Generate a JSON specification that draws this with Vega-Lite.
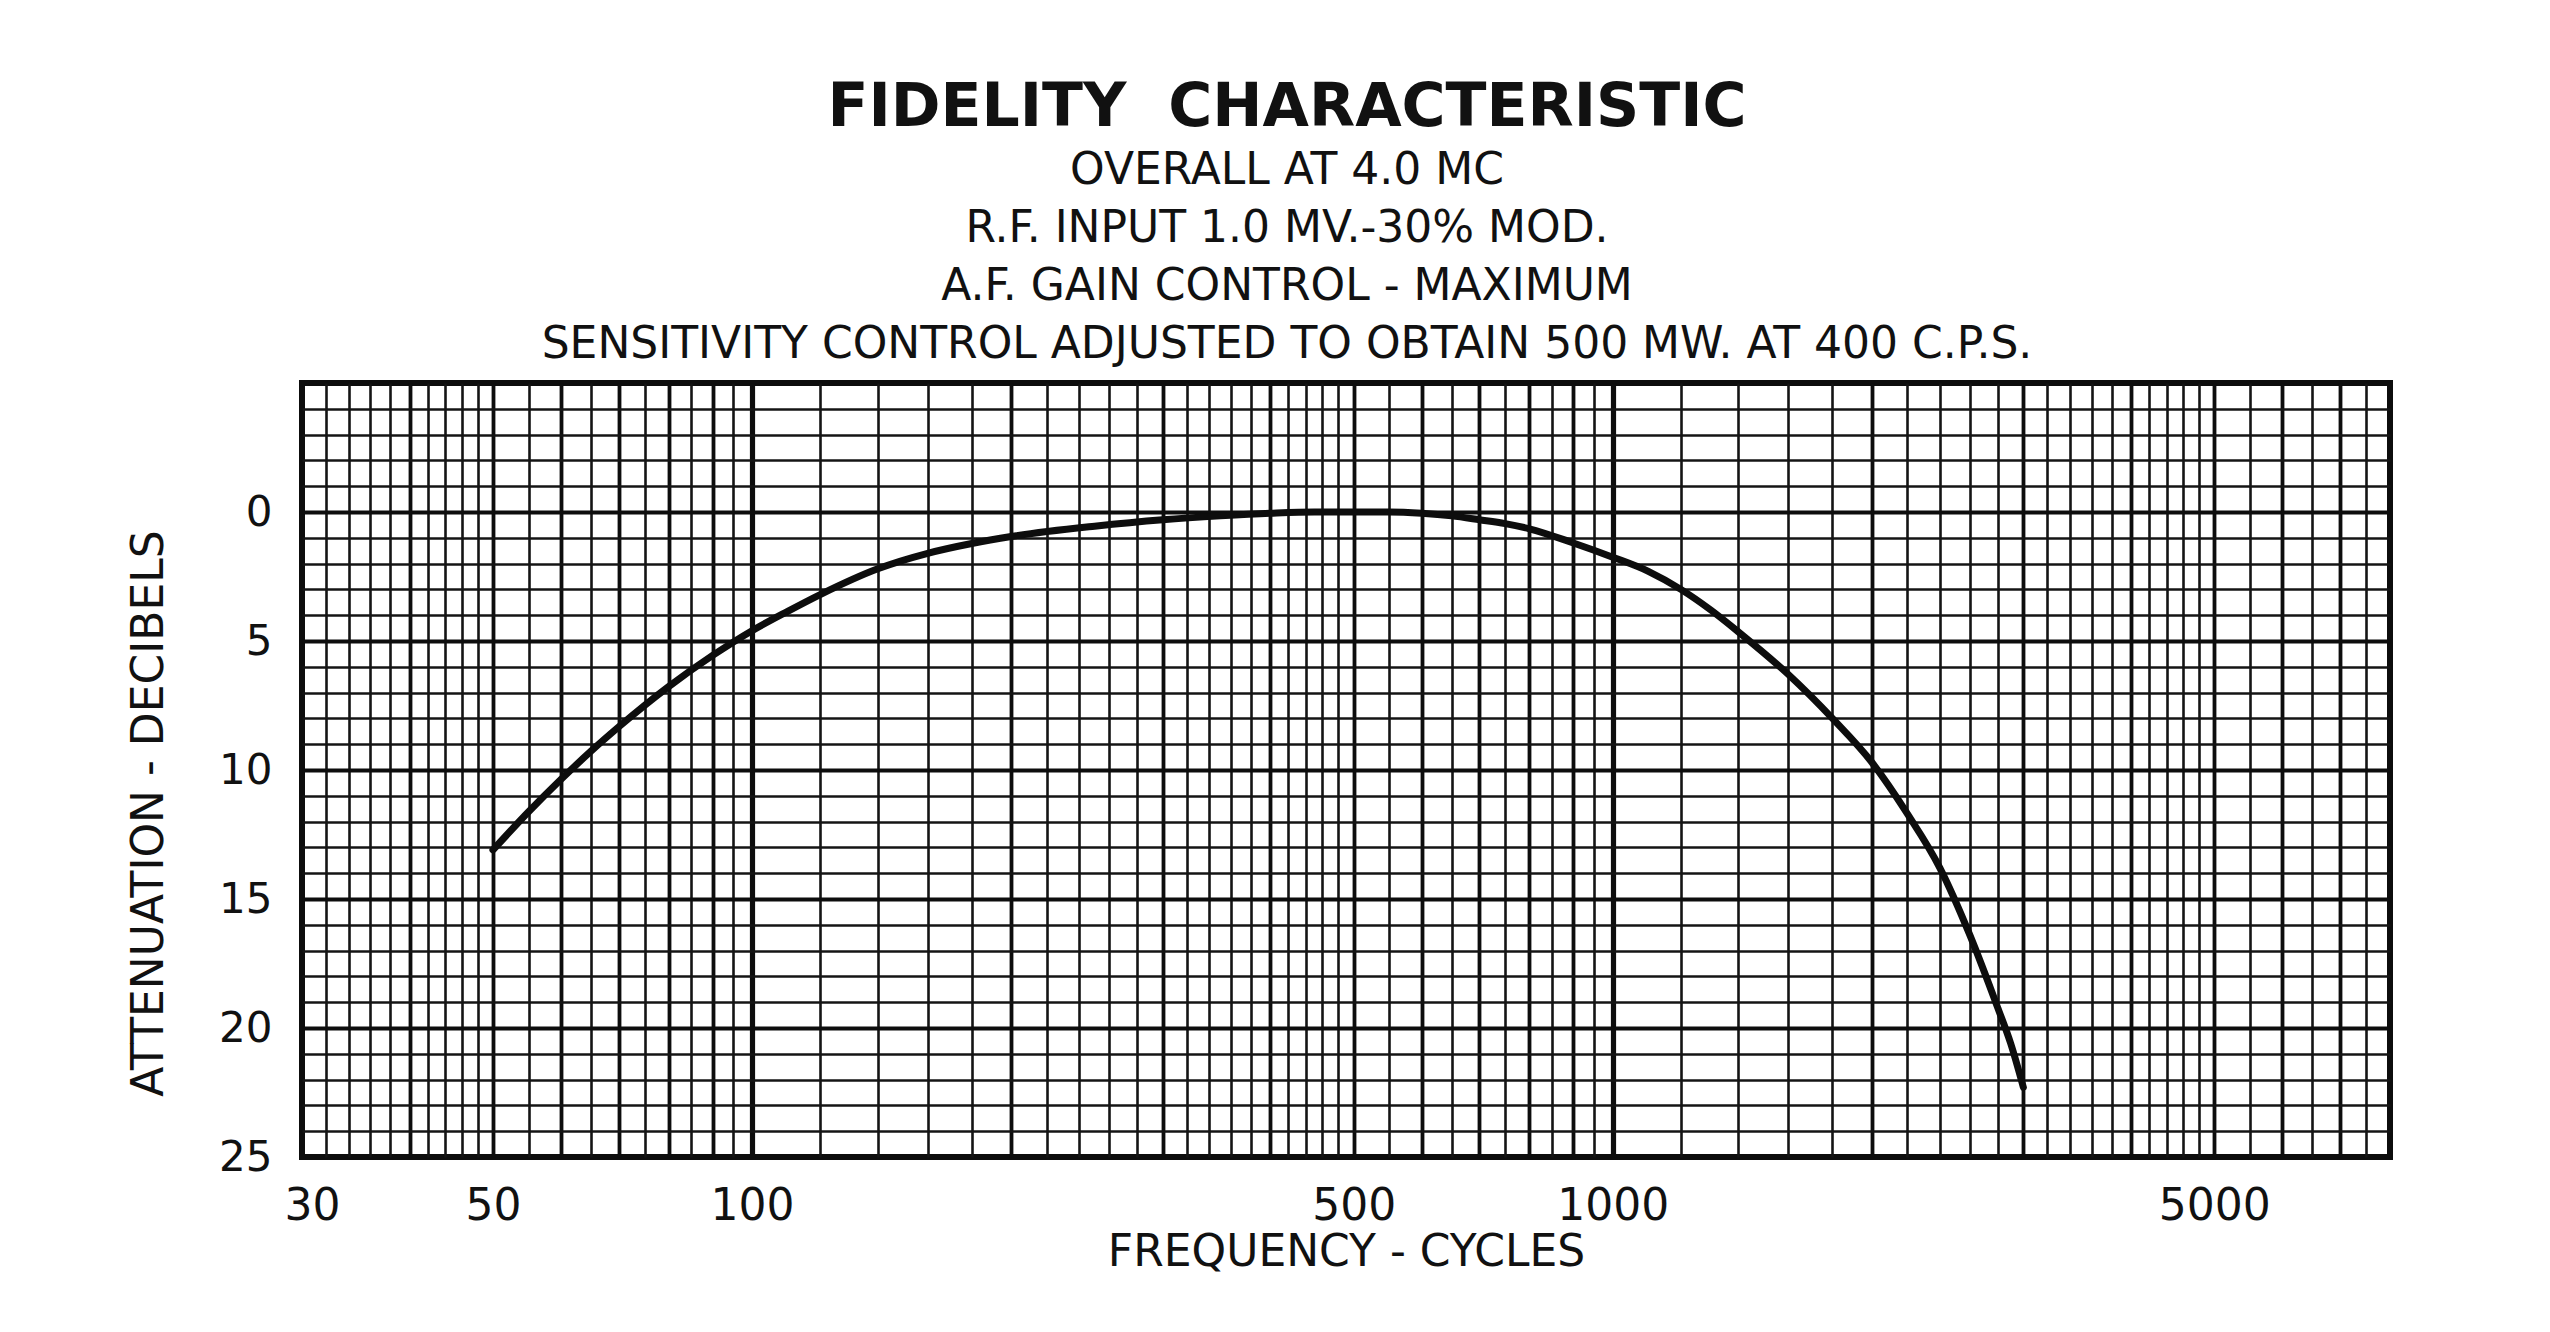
{
  "$schema": "https://vega.github.io/schema/vega-lite/v6.json",
  "width": 2088,
  "height": 774,
  "autosize": {"type": "none"},
  "padding": {"left": 302, "top": 383, "right": 160, "bottom": 175},
  "background": "white",
  "title": {
    "text": "FIDELITY\u00a0 CHARACTERISTIC",
    "subtitle": ["OVERALL AT 4.0 MC", "R.F. INPUT 1.0 MV.-30% MOD.", "A.F. GAIN CONTROL - MAXIMUM", "SENSITIVITY CONTROL ADJUSTED TO OBTAIN 500 MW. AT 400 C.P.S."],
    "font": "DejaVu Sans",
    "subtitleFont": "DejaVu Sans",
    "fontSize": 60,
    "fontWeight": "bold",
    "subtitleFontSize": 44,
    "subtitleLineHeight": 58,
    "subtitlePadding": 10,
    "offset": 15,
    "anchor": "middle",
    "dx": -59,
    "color": "#111111",
    "subtitleColor": "#111111"
  },
  "data": {
    "values": [
      {"freq": 50, "atten": 13.1},
      {"freq": 55, "atten": 11.62},
      {"freq": 60, "atten": 10.36},
      {"freq": 65, "atten": 9.27},
      {"freq": 70, "atten": 8.33},
      {"freq": 75, "atten": 7.5},
      {"freq": 80, "atten": 6.77},
      {"freq": 90, "atten": 5.56},
      {"freq": 100, "atten": 4.6},
      {"freq": 110, "atten": 3.85},
      {"freq": 120, "atten": 3.2},
      {"freq": 140, "atten": 2.2},
      {"freq": 160, "atten": 1.6},
      {"freq": 180, "atten": 1.22},
      {"freq": 200, "atten": 0.95},
      {"freq": 250, "atten": 0.55},
      {"freq": 300, "atten": 0.3},
      {"freq": 350, "atten": 0.15},
      {"freq": 400, "atten": 0.05},
      {"freq": 450, "atten": 0},
      {"freq": 500, "atten": 0},
      {"freq": 550, "atten": 0},
      {"freq": 600, "atten": 0.05},
      {"freq": 650, "atten": 0.15},
      {"freq": 700, "atten": 0.3},
      {"freq": 750, "atten": 0.45},
      {"freq": 800, "atten": 0.65},
      {"freq": 900, "atten": 1.2},
      {"freq": 1000, "atten": 1.75},
      {"freq": 1100, "atten": 2.3},
      {"freq": 1200, "atten": 3.0},
      {"freq": 1300, "atten": 3.8},
      {"freq": 1400, "atten": 4.65},
      {"freq": 1600, "atten": 6.3},
      {"freq": 1800, "atten": 8.0},
      {"freq": 2000, "atten": 9.7},
      {"freq": 2200, "atten": 11.7},
      {"freq": 2400, "atten": 13.8},
      {"freq": 2600, "atten": 16.4},
      {"freq": 2800, "atten": 19.2},
      {"freq": 2900, "atten": 20.6},
      {"freq": 3000, "atten": 22.3}
    ]
  },
  "layer": [
    {
      "mark": {"type": "line", "opacity": 0},
      "encoding": {
        "x": {"field": "freq", "type": "quantitative",
          "scale": {"type": "log", "domain": [30, 8000], "nice": false},
          "axis": {"orient": "bottom", "title": null, "labels": false, "ticks": false, "domain": false, "grid": true, "gridColor": "#141414", "gridWidth": 2.6, "gridOpacity": 1,
            "values": [32,34,36,38,42,44,46,48,55,65,75,85,95,120,140,160,180,220,240,260,280,320,340,360,380,420,440,460,480,550,650,750,850,950,1200,1400,1600,1800,2200,2400,2600,2800,3200,3400,3600,3800,4200,4400,4600,4800,5500,6500,7500]}},
        "y": {"field": "atten", "type": "quantitative",
          "scale": {"domain": [-5, 25], "reverse": true, "nice": false, "zero": false},
          "axis": {"orient": "left", "title": null, "labels": false, "ticks": false, "domain": false, "grid": true, "gridColor": "#141414", "gridWidth": 2.6, "gridOpacity": 1,
            "values": [-4,-3,-2,-1,1,2,3,4,6,7,8,9,11,12,13,14,16,17,18,19,21,22,23,24]}}
      }
    },
    {
      "mark": {"type": "line", "opacity": 0},
      "encoding": {
        "x": {"field": "freq", "type": "quantitative",
          "axis": {"orient": "bottom", "title": null, "labels": false, "ticks": false, "domain": false, "grid": true, "gridColor": "#0d0d0d", "gridWidth": 3.8, "gridOpacity": 1,
            "values": [40,50,60,70,80,90,200,300,400,500,600,700,800,900,2000,3000,4000,5000,6000,7000]}},
        "y": {"field": "atten", "type": "quantitative",
          "axis": {"orient": "left", "title": null, "labels": false, "ticks": false, "domain": false, "grid": true, "gridColor": "#0d0d0d", "gridWidth": 4.2, "gridOpacity": 1,
            "values": [0, 5, 10, 15, 20]}}
      }
    },
    {
      "mark": {"type": "line", "opacity": 0},
      "encoding": {
        "x": {"field": "freq", "type": "quantitative",
          "axis": {"orient": "bottom", "title": null, "labels": false, "ticks": false, "domain": false, "grid": true, "gridColor": "#0d0d0d", "gridWidth": 5.2, "gridOpacity": 1,
            "values": [100, 1000]}},
        "y": {"field": "atten", "type": "quantitative",
          "axis": {"orient": "left", "title": null, "labels": false, "ticks": false, "domain": false, "grid": false}}
      }
    },
    {
      "mark": {"type": "line", "color": "#0d0d0d", "strokeWidth": 7, "interpolate": "monotone", "strokeCap": "round"},
      "encoding": {
        "x": {"field": "freq", "type": "quantitative",
          "axis": {"orient": "bottom", "title": "FREQUENCY - CYCLES", "grid": false, "ticks": false, "tickSize": 0, "domain": false,
            "values": [30, 50, 100, 500, 1000, 5000], "format": "d",
            "labelFontSize": 44, "labelPadding": 27, "labelFlush": true, "labelFlushOffset": 18, "labelColor": "#111111", "labelFont": "DejaVu Sans",
            "titleFontSize": 44, "titleFontWeight": "normal", "titleColor": "#111111", "titleFont": "DejaVu Sans", "titlePadding": 2}},
        "y": {"field": "atten", "type": "quantitative",
          "axis": {"orient": "left", "title": "ATTENUATION - DECIBELS", "grid": false, "ticks": false, "tickSize": 0, "domain": false,
            "values": [0, 5, 10, 15, 20, 25],
            "labelFontSize": 42, "labelPadding": 30, "labelColor": "#111111", "labelFont": "DejaVu Sans",
            "titleFontSize": 44, "titleFontWeight": "normal", "titleColor": "#111111", "titleFont": "DejaVu Sans",
            "titleX": -131, "titleY": 430}}
      }
    }
  ],
  "resolve": {"axis": {"x": "independent", "y": "independent"}},
  "config": {
    "font": "DejaVu Sans",
    "view": {"stroke": "#0d0d0d", "strokeWidth": 6}
  }
}
